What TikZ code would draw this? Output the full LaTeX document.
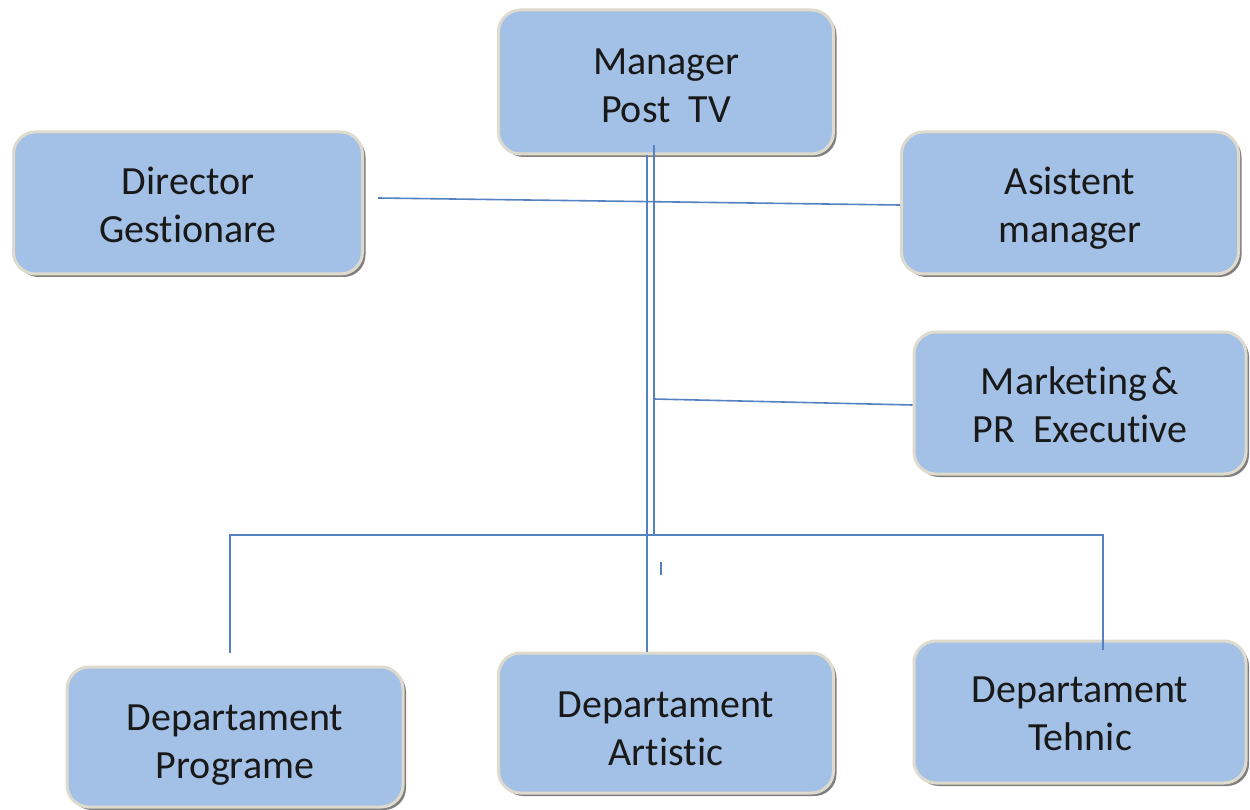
\documentclass[tikz,border=0pt]{standalone}
\usepackage{fontspec}
\setmainfont{Carlito}[Ligatures={NoCommon}]
\usetikzlibrary{shadows,calc}
\definecolor{boxfill}{RGB}{163,193,230}
\definecolor{boxedge}{RGB}{222,218,205}
\definecolor{connc}{RGB}{84,130,192}
\definecolor{txt}{RGB}{25,25,25}
\newcommand{\twolines}[3][0pt]{\raisebox{#1}[\height][\depth]{\begin{tabular}{@{}c@{}}#2\\#3\end{tabular}}}
\begin{document}
\begin{tikzpicture}[x=1pt,y=-1pt,
  orgbox/.style={rounded corners=22pt, fill=boxfill, draw=boxedge, line width=3pt,
    align=center, text=txt, font=\fontsize{40}{48}\selectfont, inner sep=2pt,
    drop shadow={shadow xshift=3pt, shadow yshift=-3pt, fill=black, opacity=0.5}},
  connl/.style={draw=connc, line width=1.6pt, line join=miter}]
\useasboundingbox (0,0) rectangle (1250,810);
\node[orgbox, minimum width=335pt, minimum height=144pt] (mgr) at (666,82) {\twolines[-7pt]{Manager}{Post~~TV}};
\node[orgbox, minimum width=349pt, minimum height=142pt] (dir) at (188,203) {\twolines[-6pt]{Director}{Gestionare}};
\node[orgbox, minimum width=337pt, minimum height=142pt] (asi) at (1070,203) {\twolines[-6pt]{Asistent}{manager}};
\node[orgbox, minimum width=332pt, minimum height=142pt] (mkt) at (1080,403) {\twolines[-6pt]{Marketing\kern0.12em\&}{PR~~Executive}};
\node[orgbox, minimum width=336pt, minimum height=140pt] (prg) at (235,737) {\twolines[-8pt]{Departament}{Programe}};
\node[orgbox, minimum width=335pt, minimum height=140pt] (art) at (666,723) {\twolines[-9pt]{Departament}{Artistic}};
\node[orgbox, minimum width=332pt, minimum height=142pt] (teh) at (1080,712) {\twolines[-5pt]{Departament}{Tehnic}};
\coordinate (mtop) at (654,145);
\coordinate (hub) at (654,535);
\coordinate (dgs) at (378,198);
\coordinate (mk) at (654,399);
\coordinate (lp) at (230,653);
\coordinate (rp) at (1103,650);
\coordinate (t1) at (661,562);
\coordinate (t2) at (661,575);
\draw[connl] ([xshift=-19pt]mgr.south) -- ([xshift=-19pt]art.north);
\draw[connl] (mtop) -- (hub);
\draw[connl] (dgs) -- ([yshift=-2pt]asi.west);
\draw[connl] (mk) -- ([yshift=-2pt]mkt.west);
\draw[connl] (lp) |- (hub) -| (rp);
\draw[connl] (t1) -- (t2);
\end{tikzpicture}
\end{document}
